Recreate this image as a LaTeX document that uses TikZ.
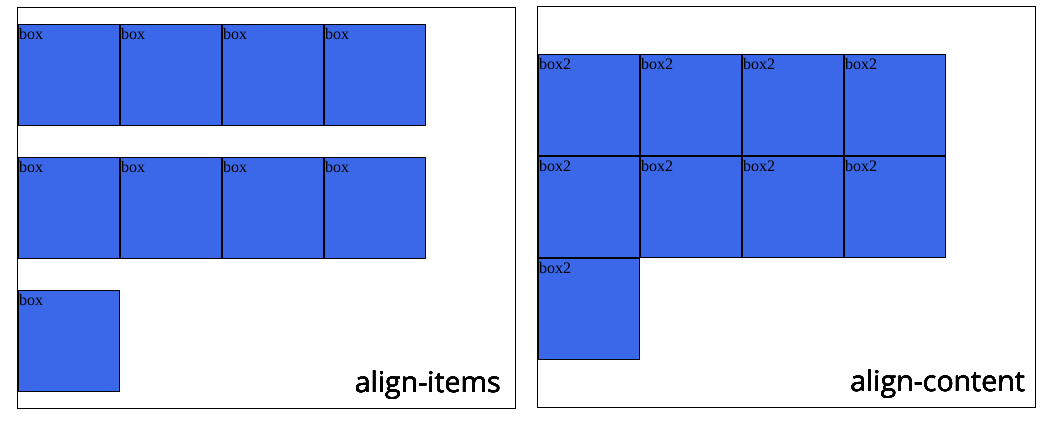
\documentclass[tikz,border=0pt]{standalone}
\usepackage{fontspec}
\setmainfont{Liberation Serif}
\newfontfamily\capfont{Open Sans}
\usetikzlibrary{calc}
\definecolor{boxblue}{RGB}{59,104,233}

\begin{document}
\begin{tikzpicture}[x=1pt,y=-1pt,
  cell/.style={draw=black, fill=boxblue, line width=1pt, minimum size=101pt, inner sep=0pt, outer sep=0pt},
  celltext/.style={inner sep=0pt, font=\fontsize{16}{16}\selectfont},
  caption/.style={inner sep=0pt, font=\capfont\fontsize{28.5}{28.5}\selectfont}]

% ---- layout parameters ----
\def\bw{102}             % box pitch
\def\xL{18}              % left edge of boxes, left frame
\def\xR{538}             % left edge of boxes, right frame

% Cell macro (name, left x, top y, text)
\newcommand{\flexcell}[4]{%
  \node[cell, anchor=north west] (#1) at (#2,#3) {};
  \node[celltext, anchor=base west] (#1t) at ($(#1.north west)+(1,15)$) {#4};}

\useasboundingbox (0,0) rectangle (1060,423);

% Frames
\draw[black, line width=1pt] (17,7) rectangle (515,408);
\draw[black, line width=1pt] (537,6) rectangle (1035,407);

% ---- align-items ----
\foreach \r/\y in {1/24,2/157}
  \foreach \c in {0,...,3}
    \flexcell{item\r\c}{\xL+\c*\bw}{\y}{box}
\flexcell{item30}{\xL}{290}{box}
\node[caption, anchor=base east] (itemscap) at (501,392) {align-items};

% ---- align-content ----
\foreach \r/\y in {1/54,2/156}
  \foreach \c in {0,...,3}
    \flexcell{content\r\c}{\xR+\c*\bw}{\y}{box2}
\flexcell{content30}{\xR}{258}{box2}
\node[caption, anchor=base east] (contentcap) at (1025,391) {align-content};

\end{tikzpicture}
\end{document}
